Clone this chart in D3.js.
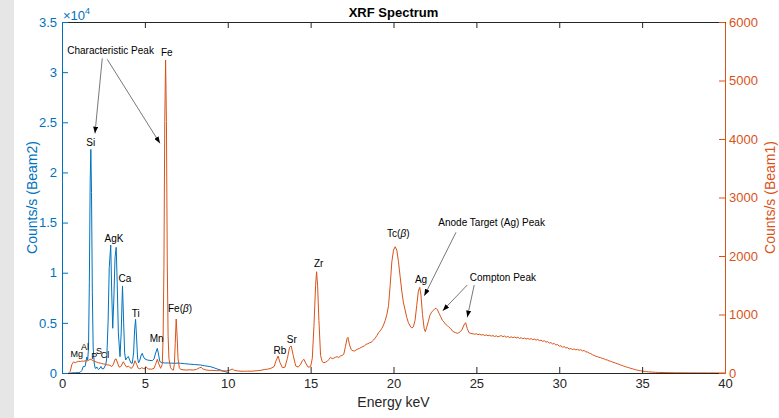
<!DOCTYPE html>
<html>
<head>
<meta charset="utf-8">
<script src="https://cdn.jsdelivr.net/npm/d3@7"></script>
<style>
body { margin: 0; background: #fff; }
svg { display: block; font-family: "Liberation Sans", Arial, Helvetica, sans-serif; }
</style>
</head>
<body>
<svg id="chart"></svg>
<script>
// Beam1 spectrum (right axis, counts/s)
const beam1Energy = [
  0.4, 0.5, 0.6, 0.7, 0.8, 0.9, 1.0, 1.1, 1.2, 1.3, 1.4, 1.5, 1.6, 1.7, 1.8, 1.9,
  2.0, 2.1, 2.2, 2.3, 2.4, 2.5, 2.6, 2.7, 2.8, 2.9, 3.0, 3.1, 3.2, 3.27, 3.35, 3.45,
  3.55, 3.7, 3.8, 3.9, 4.0, 4.1, 4.2, 4.3, 4.4, 4.5, 4.6, 4.7, 4.8, 4.9, 5.0, 5.05,
  5.2, 5.4, 5.55, 5.65, 5.75, 5.85, 5.95, 6.05, 6.1, 6.15, 6.2, 6.25, 6.3, 6.35, 6.4,
  6.45, 6.55, 6.65, 6.72, 6.78, 6.83, 6.89, 6.95, 7.0, 7.08, 7.15, 7.3, 7.5, 7.7, 7.9,
  8.1, 8.3, 8.4, 8.5, 8.7, 8.9, 9.1, 9.3, 9.5, 9.7, 9.9, 10.1, 10.27, 10.4, 10.6, 10.8,
  11.0, 11.2, 11.4, 11.6, 11.8, 12.0, 12.2, 12.4, 12.6, 12.8, 12.9, 13.04, 13.15, 13.3,
  13.45, 13.6, 13.73, 13.83, 13.95, 14.1, 14.25, 14.4, 14.5, 14.6, 14.7, 14.85, 15.0,
  15.1, 15.2, 15.3, 15.36, 15.42, 15.5, 15.6, 15.7, 15.8, 15.9, 16.0, 16.1, 16.2, 16.3,
  16.4, 16.5, 16.6, 16.7, 16.8, 16.9, 17.0, 17.1, 17.2, 17.25, 17.35, 17.45, 17.55,
  17.65, 17.75, 17.85, 17.95, 18.05, 18.15, 18.25, 18.35, 18.45, 18.55, 18.65, 18.8,
  18.9, 19.0, 19.1, 19.2, 19.3, 19.4, 19.5, 19.6, 19.7, 19.8, 19.9, 20.0, 20.1, 20.2,
  20.3, 20.4, 20.5, 20.6, 20.7, 20.8, 20.9, 21.0, 21.1, 21.2, 21.3, 21.4, 21.5, 21.58,
  21.65, 21.75, 21.85, 21.92, 22.0, 22.1, 22.2, 22.3, 22.4, 22.5, 22.57, 22.65, 22.75,
  22.85, 22.95, 23.05, 23.15, 23.25, 23.35, 23.45, 23.55, 23.65, 23.75, 23.85, 23.95,
  24.05, 24.15, 24.25, 24.35, 24.45, 24.55, 24.65, 24.8, 24.9, 25.0, 25.1, 25.2, 25.3,
  25.4, 25.5, 25.6, 25.7, 25.8, 25.9, 26.0, 26.1, 26.2, 26.3, 26.4, 26.5, 26.6, 26.7,
  26.8, 26.9, 27.0, 27.1, 27.2, 27.3, 27.4, 27.5, 27.6, 27.7, 27.8, 27.9, 28.0, 28.1,
  28.2, 28.3, 28.4, 28.5, 28.6, 28.7, 28.8, 28.9, 29.0, 29.1, 29.2, 29.3, 29.4, 29.5,
  29.6, 29.7, 29.8, 29.9, 30.0, 30.1, 30.2, 30.3, 30.4, 30.5, 30.6, 30.7, 30.8, 30.9,
  31.0, 31.1, 31.2, 31.3, 31.4, 31.5, 31.6, 31.7, 31.8, 31.9, 32.0, 32.1, 32.2, 32.3,
  32.4, 32.5, 32.6, 32.7, 32.8, 32.9, 33.0, 33.1, 33.2, 33.3, 33.4, 33.5, 33.6, 33.7,
  33.8, 33.9, 34.0, 34.1, 34.2, 34.3, 34.4, 34.5, 34.6, 34.7, 34.8, 34.9, 35.0, 35.2,
  35.4, 35.6, 35.8, 36.0, 36.5, 37.0, 38.0, 39.0, 40.0
];
const beam1Counts = [
  0, 30, 150, 190, 176, 190, 200, 195, 205, 200, 210, 205, 215, 235, 225, 205,
  195, 185, 176, 170, 160, 155, 150, 140, 137, 130, 110, 150, 234, 240, 170, 100,
  110, 193, 140, 100, 120, 90, 80, 120, 210, 150, 80, 70, 90, 80, 70, 110,
  70, 65, 80, 150, 234, 150, 80, 150, 600, 1800, 4300, 5350, 4300, 1900, 650,
  250, 90, 55, 50, 150, 500, 923, 600, 250, 90, 63, 55, 50, 55, 50,
  60, 90, 97, 70, 50, 45, 45, 40, 40, 35, 35, 45, 68, 45, 35, 30,
  30, 32, 30, 35, 40, 45, 60, 65, 80, 110, 200, 290, 180, 90,
  100, 250, 440, 461, 300, 120, 100, 150, 210, 234, 170, 100, 110,
  250, 800, 1500, 1731, 1500, 900, 300, 193, 176, 185, 200, 230, 268, 245,
  255, 270, 279, 265, 290, 300, 320, 450, 590, 610, 480, 400, 380,
  376, 395, 410, 420, 440, 450, 465, 490, 500, 515, 525, 564,
  600, 640, 690, 720, 764, 820, 900, 1000, 1150, 1500, 1900, 2100, 2159, 2100,
  1900, 1650, 1400, 1200, 1077, 950, 860, 803, 770, 790, 900, 1150, 1400, 1465,
  1350, 1000, 760, 706, 780, 880, 990, 1040, 1070, 1100, 1106, 1080, 1020,
  960, 900, 870, 830, 810, 780, 760, 720, 700, 690, 678, 690,
  710, 750, 820, 860, 760, 690, 678, 670, 662, 671, 655, 664, 648,
  657, 640, 652, 636, 645, 630, 641, 622, 636, 618, 629, 640, 621, 632,
  611, 625, 606, 619, 603, 615, 598, 611, 590, 603, 586, 598, 580, 592,
  576, 588, 569, 580, 562, 574, 553, 562, 541, 552, 528, 536, 511, 520,
  496, 503, 478, 486, 458, 466, 441, 450, 428, 433, 410, 418, 402, 411,
  396, 404, 390, 398, 378, 384, 362, 358, 340, 332, 312, 301, 288, 279,
  268, 262, 249, 243, 228, 222, 207, 201, 188, 180, 169, 158, 149, 137,
  128, 116, 108, 98, 91, 80, 74, 64, 57, 49, 43, 38, 33, 25,
  19, 15, 12, 9, 6, 4, 2, 1, 0
];

// Beam2 spectrum (left axis, counts/s)
const beam2Energy = [
  0.5, 0.8, 1.0, 1.1, 1.2, 1.25, 1.3, 1.35, 1.4, 1.45, 1.5, 1.55, 1.6, 1.65, 1.7, 1.74,
  1.78, 1.83, 1.88, 1.95, 2.0, 2.05, 2.1, 2.15, 2.2, 2.3, 2.35, 2.4, 2.5, 2.6, 2.65,
  2.7, 2.78, 2.85, 2.94, 3.0, 3.06, 3.12, 3.2, 3.27, 3.33, 3.4, 3.5, 3.57, 3.65, 3.72,
  3.78, 3.84, 3.92, 4.0, 4.08, 4.16, 4.24, 4.32, 4.38, 4.44, 4.5, 4.56, 4.62, 4.7,
  4.78, 4.84, 4.92, 5.0, 5.14, 5.3, 5.45, 5.55, 5.65, 5.75, 5.82, 5.9, 6.0, 6.2, 6.4,
  6.6, 6.8, 7.0, 7.15, 7.4, 7.7, 8.0, 8.35, 8.6, 8.96, 9.2, 9.4, 9.56, 9.7, 9.86,
  10.0, 10.1
];
const beam2Counts = [
  0, 20, 40, 80, 250, 500, 700, 600, 700, 1200, 1600, 1300, 2500, 9000, 19000, 22300,
  18000, 8000, 2500, 900, 500, 450, 600, 450, 350, 500, 650, 450, 400, 700, 900,
  1500, 5000, 10500, 12760, 8000, 4460, 7000, 11500, 12530, 9000, 4000, 1630, 4000, 8680, 5000,
  2000, 1300, 1500, 1650, 1300, 1000, 970, 2000, 4300, 5350, 3500, 1500, 1000, 1300,
  1800, 1960, 1600, 1400, 1300, 1250, 1230, 1400, 2000, 2460, 1900, 1150, 1050, 1000, 1000,
  980, 970, 990, 970, 930, 880, 840, 800, 720, 630, 500, 380, 300, 200, 130,
  50, 0
];

const xTicks = [0, 5, 10, 15, 20, 25, 30, 35, 40];
const leftTicks = [0, 5000, 10000, 15000, 20000, 25000, 30000, 35000];
const rightTicks = [0, 1000, 2000, 3000, 4000, 5000, 6000];

// peak labels: text, energy (keV), count level of the baseline, axis
const peakLabels = [
  {text: "Si", e: 1.73, v: 22610, axis: "left"},
  {text: "AgK", e: 3.14, v: 13040, axis: "left"},
  {text: "Ca", e: 3.80, v: 9050, axis: "left"},
  {text: "Ti", e: 4.45, v: 5600, axis: "left"},
  {text: "Mn", e: 5.71, v: 3070, axis: "left"},
  {text: "Mg", e: 0.89, v: 1615, axis: "left", small: true},
  {text: "Al", e: 1.39, v: 2270, axis: "left", small: true},
  {text: "P", e: 1.95, v: 1350, axis: "left", small: true},
  {text: "S", e: 2.23, v: 1875, axis: "left", small: true},
  {text: "Cl", e: 2.59, v: 1515, axis: "left", small: true},
  {text: "Fe", e: 6.32, v: 5422, axis: "right"},
  {text: "Fe(", beta: true, e: 7.12, v: 1039, axis: "right"},
  {text: "Rb", e: 13.15, v: 333, axis: "right"},
  {text: "Sr", e: 13.86, v: 521, axis: "right"},
  {text: "Zr", e: 15.49, v: 1815, axis: "right"},
  {text: "Tc(", beta: true, e: 20.29, v: 2328, axis: "right"},
  {text: "Ag", e: 21.66, v: 1547, axis: "right"},
  {text: "Characteristic Peak", e: 2.93, v: 31850, axis: "left"},
  {text: "Anode Target (Ag) Peak", e: 25.92, v: 2509, axis: "right"},
  {text: "Compton Peak", e: 26.6, v: 1576, axis: "right"}
];

// annotation arrows: from (e0, v0) to (e1, v1)
const arrows = [
  {e0: 2.43, v0: 31376, e1: 1.99, v1: 23898, axis: "left"},
  {e0: 2.73, v0: 5362, e1: 5.91, v1: 3926, axis: "right"},
  {e0: 23.77, v0: 2405, e1: 21.86, v1: 1321, axis: "right"},
  {e0: 24.45, v0: 1504, e1: 22.97, v1: 1065, axis: "right"},
  {e0: 24.87, v0: 1504, e1: 24.45, v1: 952, axis: "right"}
];

const width = 779, height = 418;
const margin = {top: 22, right: 54, bottom: 45, left: 62};
const blue = "#0072BD", orange = "#D95319", dark = "#262626";

const svg = d3.select("#chart").attr("width", width).attr("height", height);

svg.append("rect").attr("width", width).attr("height", height).attr("fill", "#fff");
svg.append("rect").attr("width", 14).attr("height", height).attr("fill", "#e6e6e6");

const x = d3.scaleLinear().domain([0, 40]).range([margin.left, width - margin.right]);
const yL = d3.scaleLinear().domain([0, 35000]).range([height - margin.bottom, margin.top]);
const yR = d3.scaleLinear().domain([0, 6000]).range([height - margin.bottom, margin.top]);
const yOf = a => a === "left" ? yL : yR;

svg.append("defs").append("clipPath").attr("id", "plot")
  .append("rect")
  .attr("x", margin.left).attr("y", margin.top)
  .attr("width", x(40) - x(0)).attr("height", yL(0) - yL(35000));

// spectra
const beam2 = beam2Energy.map((e, i) => [e, beam2Counts[i]]);
const beam1 = beam1Energy.map((e, i) => [e, beam1Counts[i]]);

svg.append("path")
  .datum(beam2)
  .attr("clip-path", "url(#plot)")
  .attr("fill", "none").attr("stroke", blue).attr("stroke-width", 1)
  .attr("d", d3.line().x(d => x(d[0])).y(d => yL(d[1])));

svg.append("path")
  .datum(beam1)
  .attr("clip-path", "url(#plot)")
  .attr("fill", "none").attr("stroke", orange).attr("stroke-width", 1)
  .attr("d", d3.line().x(d => x(d[0])).y(d => yR(d[1])));

// axes
const fontAxis = 13;

const gx = svg.append("g")
  .attr("transform", `translate(0,${yL(0)})`)
  .call(d3.axisBottom(x).tickValues(xTicks).tickSizeInner(-6).tickSizeOuter(0).tickPadding(6));
gx.selectAll("text").attr("fill", dark).style("font-size", fontAxis + "px");

const gTop = svg.append("g")
  .attr("transform", `translate(0,${yL(35000)})`)
  .call(d3.axisTop(x).tickValues(xTicks).tickSizeInner(-6).tickSizeOuter(0).tickFormat(""));

[gx, gTop].forEach(g => {
  g.select(".domain").attr("stroke", dark);
  g.selectAll(".tick line").attr("stroke", dark);
});

const gL = svg.append("g")
  .attr("transform", `translate(${x(0)},0)`)
  .call(d3.axisLeft(yL).tickValues(leftTicks).tickSizeInner(-6).tickSizeOuter(0).tickPadding(5)
    .tickFormat(d => d / 10000));
const gR = svg.append("g")
  .attr("transform", `translate(${x(40)},0)`)
  .call(d3.axisRight(yR).tickValues(rightTicks).tickSizeInner(-6).tickSizeOuter(0).tickPadding(4)
    .tickFormat(d3.format("d")));

[[gL, blue], [gR, orange]].forEach(([g, c]) => {
  g.select(".domain").attr("stroke", c);
  g.selectAll(".tick line").attr("stroke", c);
  g.selectAll("text").attr("fill", c).style("font-size", fontAxis + "px");
});
svg.selectAll("g").attr("font-family", null);

// exponent
const expo = svg.append("text").attr("x", x(0) + 1).attr("y", 20)
  .attr("fill", blue).style("font-size", "13px");
expo.append("tspan").text("\u00d710");
expo.append("tspan").attr("dy", -6).style("font-size", "9px").text("4");

// title and axis labels
svg.append("text").attr("x", (x(0) + x(40)) / 2).attr("y", 17)
  .attr("text-anchor", "middle").attr("font-weight", "bold").attr("fill", "#000")
  .style("font-size", "13px").text("XRF Spectrum");

svg.append("text").attr("x", (x(0) + x(40)) / 2).attr("y", 407)
  .attr("text-anchor", "middle").attr("fill", dark)
  .style("font-size", "14px").text("Energy keV");

svg.append("text")
  .attr("transform", `translate(37,${(yL(0) + yL(35000)) / 2}) rotate(-90)`)
  .attr("text-anchor", "middle").attr("fill", blue)
  .style("font-size", "14px").text("Counts/s (Beam2)");

svg.append("text")
  .attr("transform", `translate(775,${(yL(0) + yL(35000)) / 2}) rotate(-90)`)
  .attr("text-anchor", "middle").attr("fill", orange)
  .style("font-size", "14px").text("Counts/s (Beam1)");

// annotations
svg.select("defs").append("marker")
  .attr("id", "head").attr("viewBox", "0 0 8 6")
  .attr("refX", 8).attr("refY", 3)
  .attr("markerWidth", 7).attr("markerHeight", 5)
  .attr("markerUnits", "userSpaceOnUse")
  .attr("orient", "auto")
  .append("path").attr("d", "M0,0L8,3L0,6Z").attr("fill", "#000");

svg.selectAll(".arrow")
  .data(arrows)
  .enter().append("line")
  .attr("class", "arrow")
  .attr("x1", d => x(d.e0)).attr("y1", d => yOf(d.axis)(d.v0))
  .attr("x2", d => x(d.e1)).attr("y2", d => yOf(d.axis)(d.v1))
  .attr("stroke", "#555").attr("stroke-width", 0.8)
  .attr("marker-end", "url(#head)");

const labels = svg.selectAll(".peak")
  .data(peakLabels)
  .enter().append("text")
  .attr("class", "peak")
  .attr("x", d => x(d.e)).attr("y", d => yOf(d.axis)(d.v))
  .attr("text-anchor", "middle").attr("fill", "#000")
  .style("font-size", d => d.small ? "9px" : "10px");

labels.append("tspan").text(d => d.text);
labels.filter(d => d.beta).append("tspan").attr("font-style", "italic").text("\u03b2");
labels.filter(d => d.beta).append("tspan").text(")");
</script>
</body>
</html>
